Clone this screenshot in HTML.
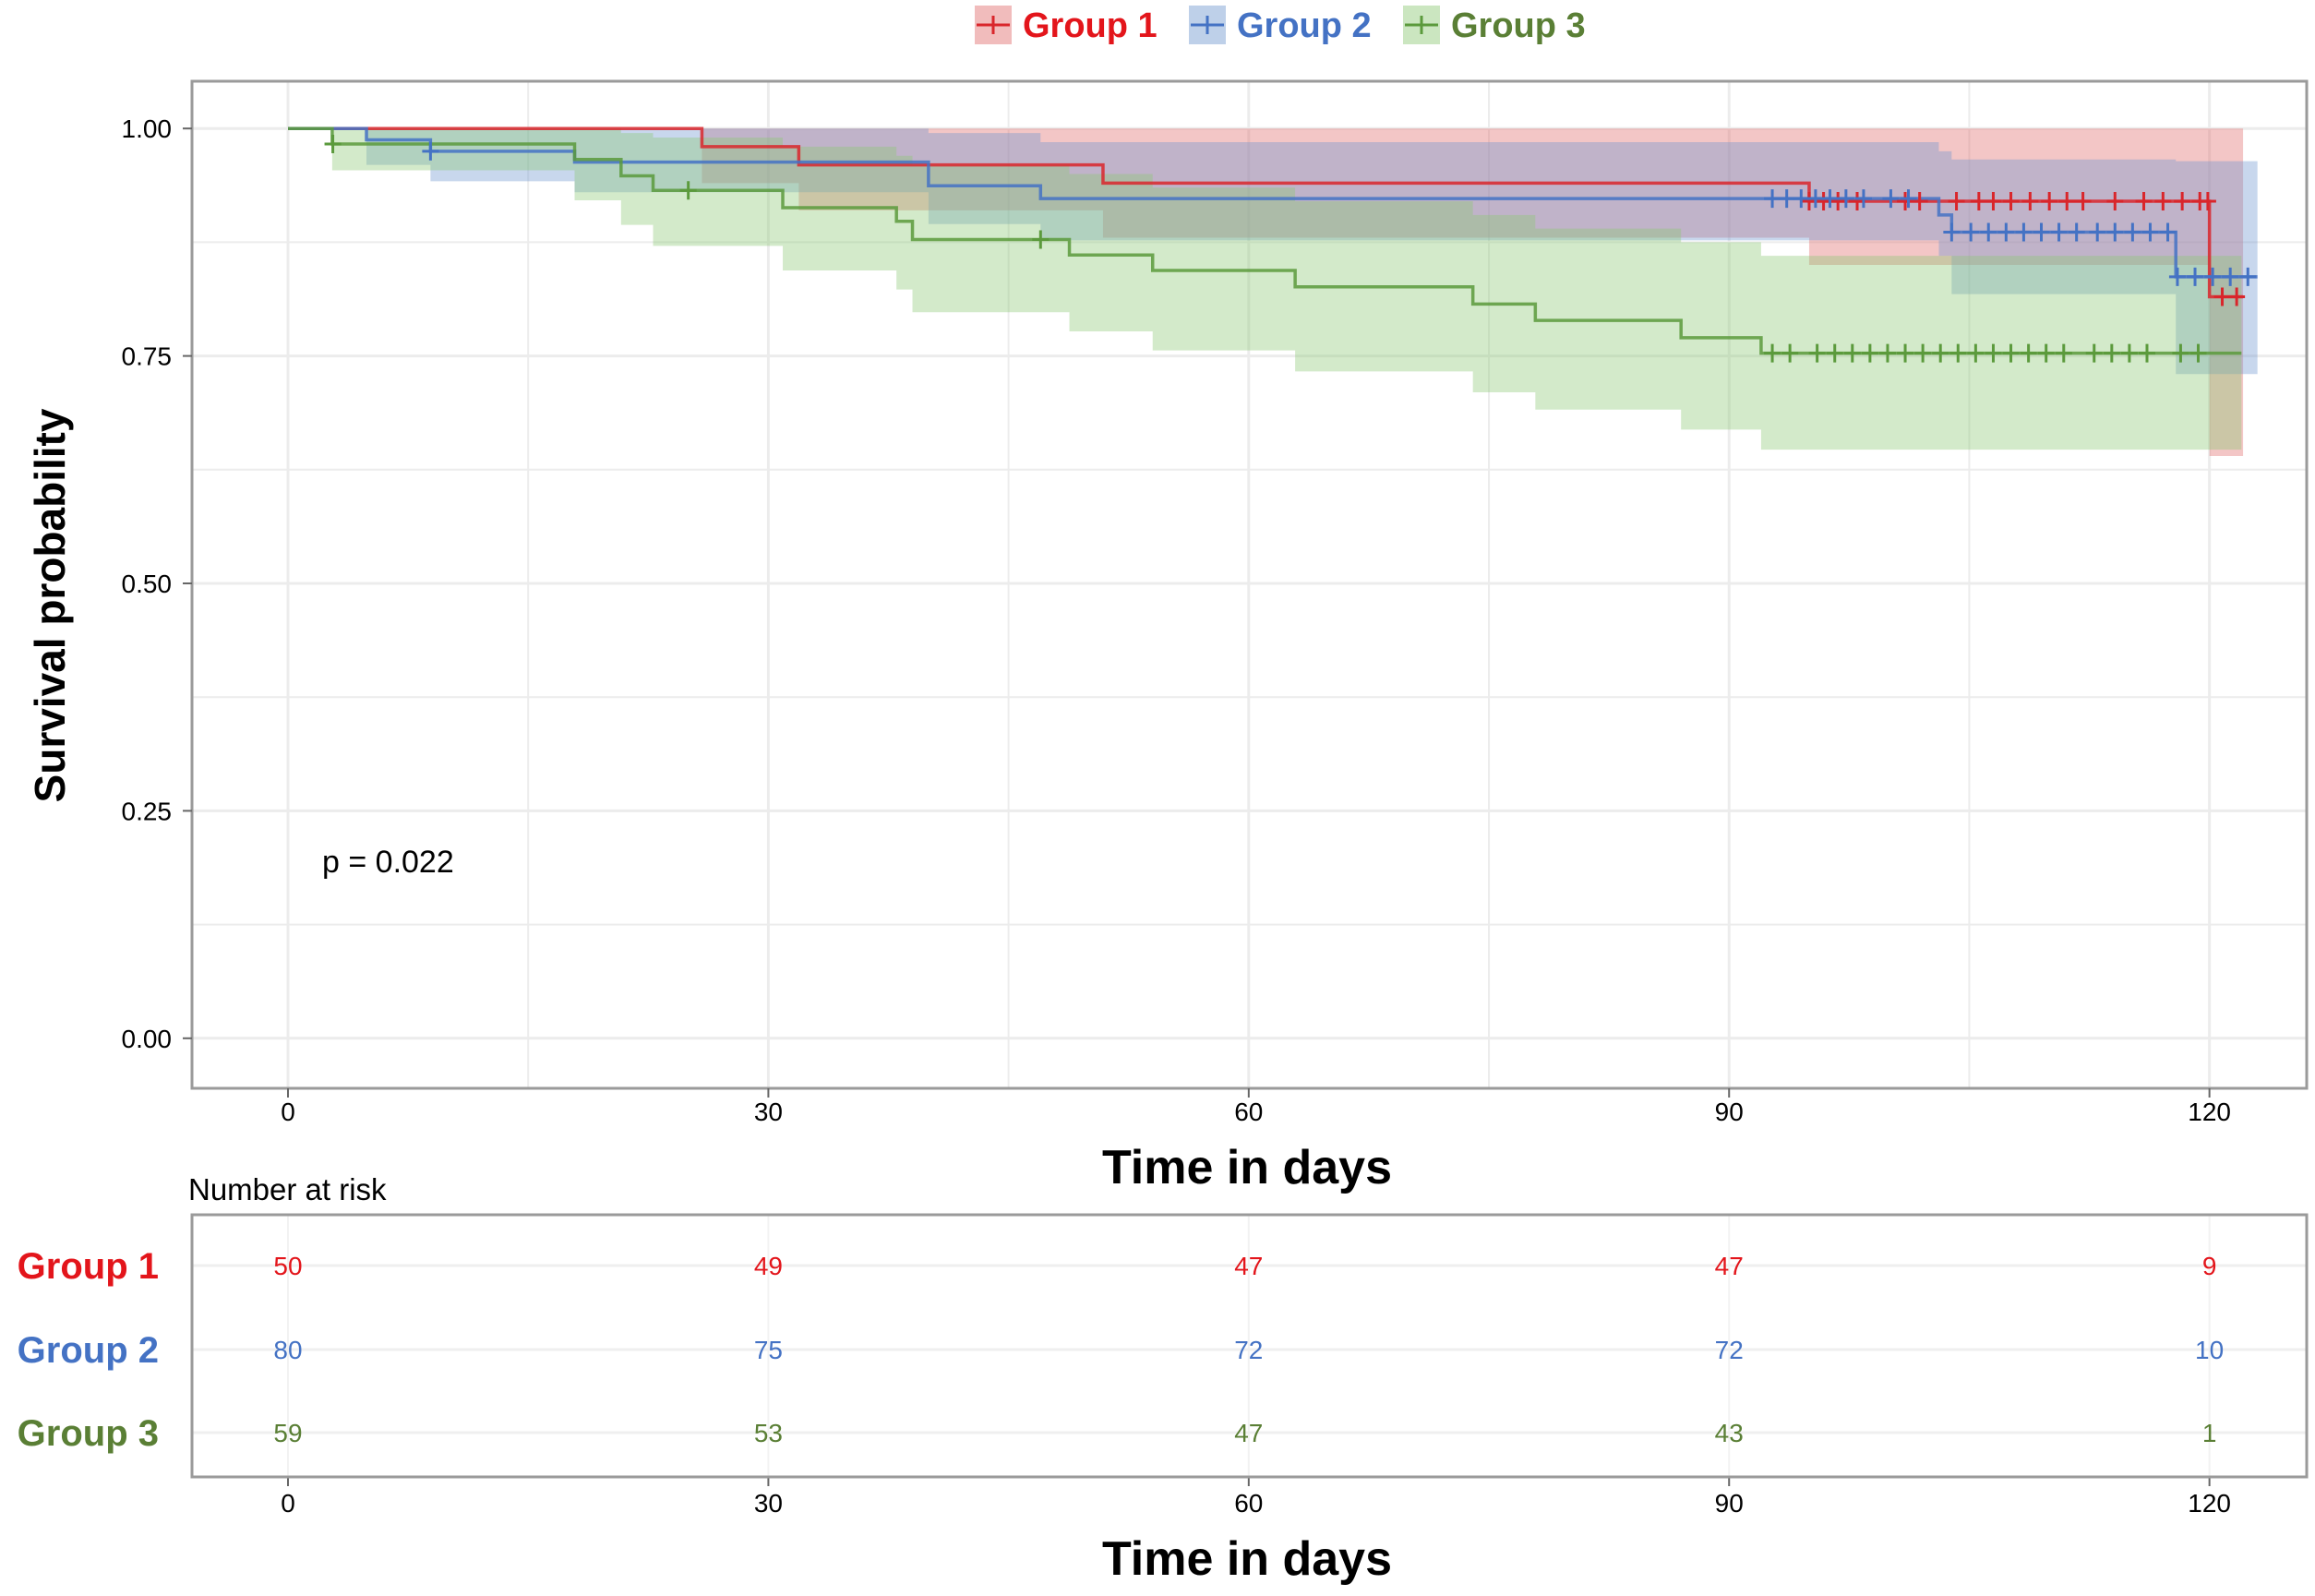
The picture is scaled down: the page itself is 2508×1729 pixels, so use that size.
<!DOCTYPE html>
<html><head><meta charset="utf-8"><style>
html,body{margin:0;padding:0;background:#fff;}
svg{display:block;font-family:"Liberation Sans",sans-serif;}
</style></head><body>
<svg id="chart" width="2508" height="1729" viewBox="0 0 2508 1729" xmlns="http://www.w3.org/2000/svg">
<g id="legend"></g>
<g id="grid"></g>
<g id="bands"></g>
<g id="lines"></g>
<g id="censor"></g>
<rect x="208" y="88" width="2291" height="1091" fill="none" stroke="#9a9a9a" stroke-width="3"/>
<g id="axes"></g>
<text transform="translate(70,656) rotate(-90)" text-anchor="middle" font-size="46" font-weight="bold">Survival probability</text>
<text x="1351" y="1282" text-anchor="middle" font-size="52" font-weight="bold">Time in days</text>
<text x="349" y="945" font-size="34">p = 0.022</text>
<text x="204" y="1300" font-size="33">Number at risk</text>
<g id="riskgrid"></g>
<rect x="208" y="1316" width="2291" height="284" fill="none" stroke="#9a9a9a" stroke-width="3"/>
<g id="risk"></g>
<text x="1351" y="1706" text-anchor="middle" font-size="52" font-weight="bold">Time in days</text>
</svg>
<script>
const groupNames = ["Group 1","Group 2","Group 3"];
const colors = ["#d9262b","#4472c4","#5b9a3c"];
const fills = ["#e06a6a","#6f96cf","#8cc774"];
const textColors = ["#e3151b","#4472c4","#5a7f35"];
const xTicks = [0,30,60,90,120];
const yTicks = [0,0.25,0.5,0.75,1.0];
const yTickLabels = ["0.00","0.25","0.50","0.75","1.00"];

const g1Times = [0,25.85,31.9,50.9,95.0,120.0];
const g1Surv  = [1,0.98,0.96,0.94,0.92,0.815];
const g1Lower = [1,0.94,0.91,0.88,0.85,0.64];
const g1Upper = [1,1,1,1,1,1];
const g1End = 122.1;
const g1Censor = [95.0,95.9,96.8,98.0,101.0,101.9,104.2,105.6,106.5,107.6,108.8,110.0,111.1,112.1,114.1,115.9,117.1,118.3,119.4,119.9,120.8,121.7];

const g2Times = [0,4.9,8.9,17.9,40,47,103.1,103.9,117.9];
const g2Surv  = [1,0.9875,0.975,0.963,0.937,0.923,0.905,0.886,0.837];
const g2Lower = [1,0.96,0.942,0.93,0.895,0.877,0.86,0.818,0.73];
const g2Upper = [1,1,1,1,0.995,0.985,0.975,0.966,0.964];
const g2End = 123.0;
const g2Censor = [8.9,92.7,93.6,94.5,95.4,96.3,97.3,98.4,100.1,101.2,103.9,105.1,106.2,107.3,108.4,109.5,110.6,111.7,113.0,114.1,115.2,116.3,117.4,118.0,119.1,120.2,121.3,122.4];

const g3Times = [0,2.76,17.9,20.8,22.8,30.9,38,39,48.8,54,62.9,74,77.9,87,92];
const g3Surv  = [1,0.983,0.966,0.948,0.932,0.913,0.898,0.878,0.861,0.844,0.826,0.807,0.789,0.770,0.753];
const g3Lower = [1,0.954,0.921,0.894,0.871,0.844,0.823,0.798,0.777,0.756,0.733,0.710,0.691,0.669,0.647];
const g3Upper = [1,1,1,0.995,0.99,0.98,0.97,0.96,0.95,0.935,0.92,0.905,0.89,0.875,0.86];
const g3End = 122.0;
const g3Censor = [2.8,25,47,92.7,93.8,95.5,96.6,97.7,98.8,99.9,101.0,102.1,103.2,104.3,105.4,106.5,107.6,108.7,109.8,110.9,112.8,113.9,115.0,116.1,118.2,119.3];

const riskG1 = [50,49,47,47,9];
const riskG2 = [80,75,72,72,10];
const riskG3 = [59,53,47,43,1];

const NS="http://www.w3.org/2000/svg";
function X(t){return 312 + t*17.347;}
function Y(s){return 1124.8 - s*985.6;}
function el(tag,attrs,parent){const e=document.createElementNS(NS,tag);for(const k in attrs)e.setAttribute(k,attrs[k]);parent.appendChild(e);return e;}
function stepAt(times,vals,t){let v=vals[0];for(let i=0;i<times.length;i++){if(times[i]<=t)v=vals[i];}return v;}

const grid=document.getElementById('grid');
for(let s=0;s<=1.0001;s+=0.125){
  const l=el('line',{x1:208,x2:2499,y1:Y(s),y2:Y(s),stroke:'#ececec','stroke-width':Math.round(s*8)%2?2:3},grid);
  
  
}
for(let t=0;t<=120;t+=15){
  const l=el('line',{y1:88,y2:1179,x1:X(t),x2:X(t),stroke:'#ececec','stroke-width':t%30?2:3},grid);
  
  
}

const groups=[
 {times:g1Times,surv:g1Surv,lower:g1Lower,upper:g1Upper,end:g1End,censor:g1Censor},
 {times:g2Times,surv:g2Surv,lower:g2Lower,upper:g2Upper,end:g2End,censor:g2Censor},
 {times:g3Times,surv:g3Surv,lower:g3Lower,upper:g3Upper,end:g3End,censor:g3Censor}];

const bands=document.getElementById('bands'),lines=document.getElementById('lines'),cens=document.getElementById('censor');
groups.forEach((g,gi)=>{
  let up=[],lo=[];
  for(let i=0;i<g.times.length;i++){
    const x0=X(g.times[i]),x1=X(i+1<g.times.length?g.times[i+1]:g.end);
    up.push(`${x0},${Y(g.upper[i])}`,`${x1},${Y(g.upper[i])}`);
    lo.push(`${x0},${Y(g.lower[i])}`,`${x1},${Y(g.lower[i])}`);
  }
  const p=el('polygon',{points:up.concat(lo.reverse()).join(' '),fill:fills[gi],'fill-opacity':0.38},bands);
  
  
  let d=`M${X(g.times[0])},${Y(g.surv[0])}`;
  for(let i=1;i<g.times.length;i++){d+=` H${X(g.times[i])} V${Y(g.surv[i])}`;}
  d+=` H${X(g.end)}`;
  const path=el('path',{d:d,fill:'none',stroke:colors[gi],'stroke-width':3.5,'stroke-opacity':0.85},lines);
  
  
  g.censor.forEach(t=>{
    const x=X(t),y=Y(stepAt(g.times,g.surv,t));
    const m=el('path',{d:`M${x-9},${y} H${x+9} M${x},${y-10} V${y+10}`,stroke:colors[gi],'stroke-width':3},cens);
    
    
  });
});

const axes=document.getElementById('axes');
yTicks.forEach((s,i)=>{
  const t=el('text',{x:186,y:Y(s)+10,'text-anchor':'end','font-size':28},axes);t.textContent=yTickLabels[i];
  
  
  el('line',{x1:198,x2:208,y1:Y(s),y2:Y(s),stroke:'#666','stroke-width':2},axes);
});
xTicks.forEach(v=>{
  const t=el('text',{x:X(v),y:1214,'text-anchor':'middle','font-size':28},axes);t.textContent=v;
  
  
  el('line',{x1:X(v),x2:X(v),y1:1179,y2:1189,stroke:'#666','stroke-width':2},axes);
  const t2=el('text',{x:X(v),y:1638,'text-anchor':'middle','font-size':28},axes);t2.textContent=v;
  
  
  el('line',{x1:X(v),x2:X(v),y1:1600,y2:1610,stroke:'#666','stroke-width':2},axes);
});

const riskgrid=document.getElementById('riskgrid');
const risk=document.getElementById('risk');
const rowY=[1371,1462,1552];
for(let t=0;t<=120;t+=30){el('line',{x1:X(t),x2:X(t),y1:1316,y2:1600,stroke:'#f2f2f2','stroke-width':2},riskgrid);}
rowY.forEach(y=>{el('line',{x1:208,x2:2499,y1:y,y2:y,stroke:'#efefef','stroke-width':3},riskgrid);});
[riskG1,riskG2,riskG3].forEach((arr,gi)=>{
  const lab=el('text',{x:172,y:rowY[gi]+14,'text-anchor':'end','font-size':40,'font-weight':'bold',fill:textColors[gi]},risk);
  lab.textContent=groupNames[gi];
  
  
  arr.forEach((n,i)=>{
    const t=el('text',{x:X(xTicks[i]),y:rowY[gi]+10,'text-anchor':'middle','font-size':28,fill:textColors[gi]},risk);
    t.textContent=n;
    
    
  });
});

const legend=document.getElementById('legend');
const boxX=[1056,1288,1520];
groupNames.forEach((n,gi)=>{
  const item=el('g',{},legend);
  
  
  el('rect',{x:boxX[gi],y:6,width:40,height:42,fill:fills[gi],'fill-opacity':0.45},item);
  el('path',{d:`M${boxX[gi]+2},27 H${boxX[gi]+38} M${boxX[gi]+20},17 V37`,stroke:colors[gi],'stroke-width':3},item);
  const t=el('text',{x:boxX[gi]+52,y:40,'font-size':38,'font-weight':'bold',fill:textColors[gi]},item);
  t.textContent=n;
});
</script>
</body></html>
